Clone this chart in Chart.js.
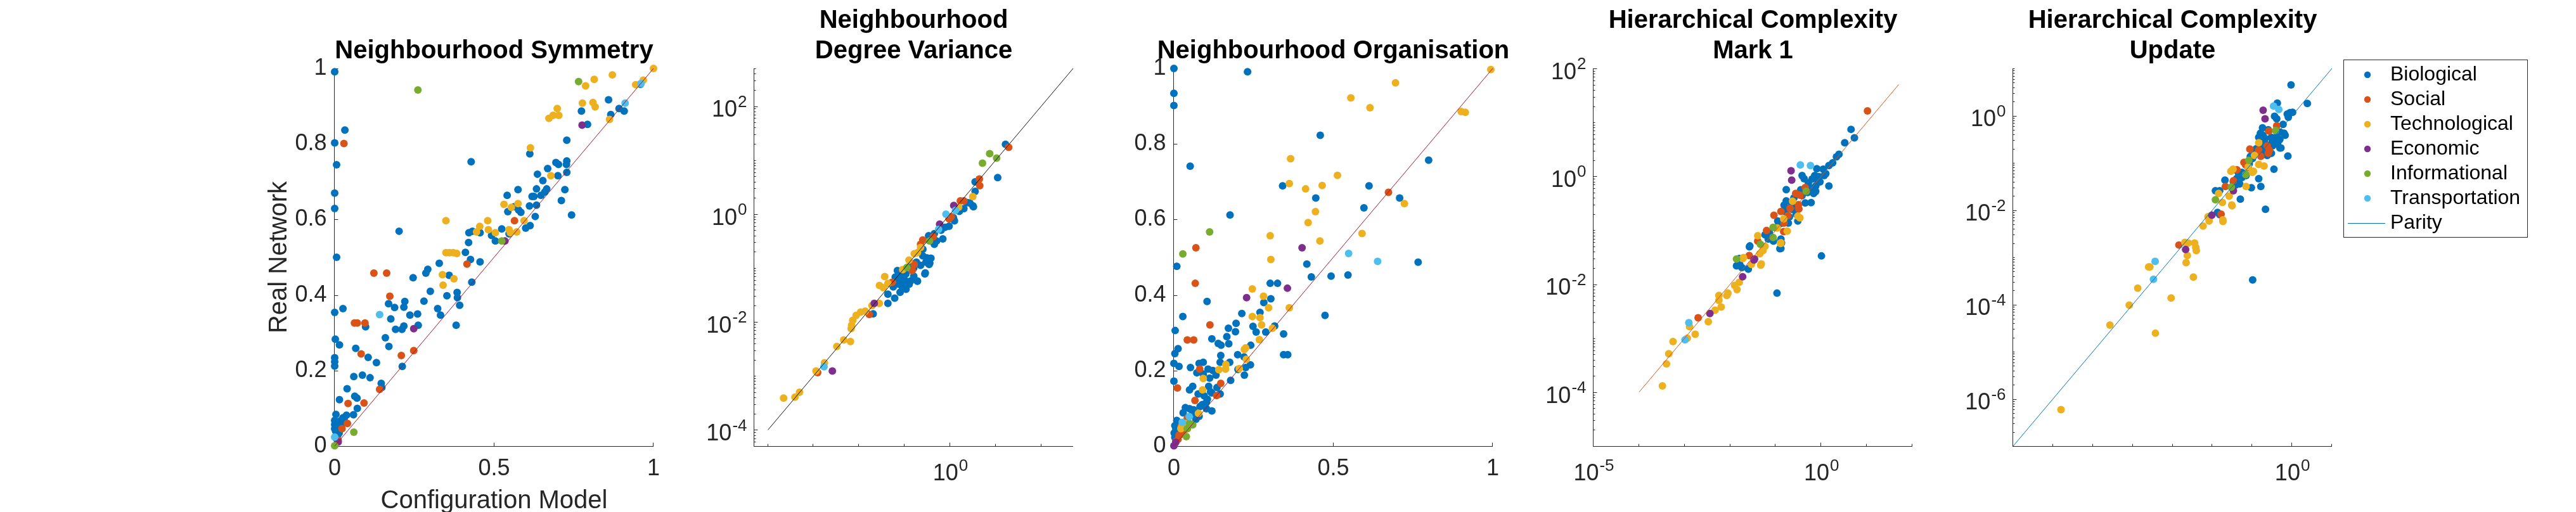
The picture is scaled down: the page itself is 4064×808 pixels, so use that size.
<!DOCTYPE html>
<html>
<head>
<meta charset="utf-8">
<script src="https://cdn.jsdelivr.net/npm/chart.js@4.4.1/dist/chart.umd.min.js"></script>
<style>
  html, body { margin: 0; padding: 0; background: #fff; }
  #wrap { position: relative; width: 4064px; height: 808px; }
  #wrap canvas { position: absolute; left: 0; top: 0; }
</style>
</head>
<body>
<div id="wrap">
  <canvas id="c0" width="4064" height="808"></canvas>
  <canvas id="c1" width="4064" height="808"></canvas>
  <canvas id="c2" width="4064" height="808"></canvas>
  <canvas id="c3" width="4064" height="808"></canvas>
  <canvas id="c4" width="4064" height="808"></canvas>
</div>
<script>
/* Real network vs configuration model, five measures */
const categories = ['Biological', 'Social', 'Technological', 'Economic', 'Informational', 'Transportation'];
const catColors = ['#0072BD', '#D95319', '#EDB120', '#7E2F8E', '#77AC30', '#4DBEEE'];

// Neighbourhood Symmetry  [configuration model, real network]
const symBio = [[0,0.991],[0,0.803],[0.032,0.837],[0.006,0.745],[0,0.67],[0,0.629],[0.006,0.5],[0,0.354],[0.026,0.364],[0.002,0.283],[0.015,0.268],[0,0.234],[0,0.223],[0,0.212],[0.015,0.123],[0.039,0.152],[0.06,0.184],[0.066,0.259],[0.087,0.188],[0.111,0.181],[0.097,0.316],[0.105,0.235],[0.131,0.221],[0.146,0.166],[0.148,0.155],[0.063,0.132],[0.07,0.127],[0.071,0.1],[0.159,0.287],[0.17,0.264],[0.169,0.377],[0.176,0.337],[0.188,0.367],[0.191,0.309],[0.202,0.569],[0.211,0.309],[0.217,0.318],[0.217,0.368],[0.22,0.383],[0.212,0.211],[0.246,0.446],[0.236,0.347],[0.26,0.35],[0.262,0.32],[0.28,0.384],[0.286,0.458],[0.292,0.468],[0.3,0.41],[0.328,0.484],[0.323,0.364],[0.332,0.347],[0.352,0.398],[0.359,0.452],[0.384,0.407],[0.385,0.393],[0.392,0.373],[0.381,0.32],[0.41,0.513],[0.421,0.565],[0.426,0.494],[0.42,0.539],[0.428,0.753],[0.43,0.434],[0.432,0.569],[0.456,0.565],[0.456,0.488],[0.492,0.558],[0.504,0.543],[0.524,0.575],[0.541,0.664],[0.543,0.621],[0.547,0.562],[0.563,0.634],[0.575,0.679],[0.577,0.625],[0.584,0.619],[0.599,0.577],[0.613,0.584],[0.611,0.636],[0.619,0.661],[0.625,0.661],[0.612,0.774],[0.629,0.608],[0.633,0.681],[0.633,0.638],[0.636,0.72],[0.653,0.703],[0.647,0.664],[0.659,0.673],[0.665,0.681],[0.668,0.735],[0.694,0.751],[0.702,0.746],[0.7,0.716],[0.711,0.65],[0.722,0.679],[0.728,0.81],[0.728,0.755],[0.727,0.746],[0.728,0.725],[0.743,0.612],[0.774,0.887],[0.793,0.852],[0.859,0.917],[0.866,0.878],[0.892,0.894],[0.908,0.887],[0.959,0.958],[0.059,0.083],[0.037,0.082],[0.03,0.074],[0.004,0.084],[0,0.068],[0,0.057],[0,0.046],[0.003,0.04],[0.01,0.052],[0.02,0.068],[0.023,0.057],[0.014,0.035],[0.01,0.029],[0.026,0.075],[0.005,0.02],[0.008,0.045],[0.016,0.06]];
const symSoc = [[0.029,0.801],[0.123,0.458],[0.163,0.458],[0.173,0.397],[0.062,0.326],[0.071,0.326],[0.095,0.326],[0.083,0.244],[0.209,0.24],[0.248,0.253],[0.042,0.113],[0.092,0.114],[0.04,0.06],[0.023,0.046],[0.141,0.15],[0.415,0.482],[0.564,0.597],[0.011,0.015]];
const symTech = [[1,1],[0.871,0.983],[0.814,0.971],[0.787,0.954],[0.944,0.957],[0.968,0.969],[0.777,0.908],[0.81,0.91],[0.817,0.898],[0.698,0.894],[0.672,0.868],[0.685,0.876],[0.703,0.876],[0.614,0.79],[0.678,0.716],[0.862,0.865],[0.349,0.597],[0.349,0.512],[0.36,0.512],[0.372,0.512],[0.383,0.51],[0.338,0.454],[0.374,0.443],[0.34,0.426],[0.48,0.597],[0.455,0.582],[0.445,0.567],[0.482,0.573],[0.504,0.565],[0.531,0.64],[0.554,0.632],[0.575,0.642],[0.547,0.573],[0.551,0.565],[0.571,0.567],[0.594,0.597]];
const symEcon = [[0.776,0.85],[0.534,0.543],[0.248,0.311],[0.011,0.011]];
const symInfo = [[0.261,0.943],[0.765,0.965],[0.524,0.543],[0.06,0.037],[0,0.001]];
const symTrans = [[0.141,0.348],[0.911,0.908],[0.961,0.96],[0,0.024]];

// Neighbourhood Degree Variance, read as log10 values [x, y]
const ndvBio = [[1.214,1.292],[1.043,0.676],[0.547,0.598],[0.547,0.421],[0.431,0.206],[0.51,0.135],[0.07,-0.068],[0.093,-0.127],[-0.024,-0.226],[-0.115,-0.245],[-0.162,-0.461],[-0.348,-0.363],[-0.473,-0.402],[-0.348,-0.559],[-0.602,-0.774],[-0.51,-0.814],[-0.463,-0.932],[-0.533,-0.892],[-0.858,-0.912],[-0.741,-0.892],[-1.159,-1.049],[-1.067,-1.127],[-0.974,-1.108],[-0.556,-1.108],[-1.206,-1.167],[-1.113,-1.245],[-0.974,-1.245],[-0.719,-1.245],[-1.368,-1.485],[-1.219,-1.558],[-1.368,-1.655],[-1.119,-1.303],[-0.97,-1.394],[-1.02,-1.182],[-0.871,-1.242],[-0.721,-1.242],[-0.547,-1.091],[-0.448,-0.909],[-0.423,-0.818],[-1.692,-1.848],[0.373,0.212],[0.498,0.152],[-0.8,-1.0],[-0.9,-1.3],[-1.05,-1.35],[-0.65,-0.95],[-0.3,-0.5],[-0.2,-0.3],[0.2,0.05],[0.3,0.1],[-0.6,-0.65],[-1.25,-1.35],[-1.1,-1.45],[-0.8,-1.15]];
const ndvSoc = [[1.284,1.238],[0.64,0.649],[0.649,0.527],[0.223,0.245],[0.301,0.245],[0.024,-0.049],[-0.024,-0.088],[-0.371,-0.421],[-0.602,-0.48],[-0.65,-0.559],[-0.789,-0.932],[-0.834,-1.049],[-1.275,-1.265],[-1.776,-1.861],[-2.91,-2.939]];
const ndvTech = [[0.496,0.324],[0.185,0.127],[-0.65,-0.618],[-0.719,-0.716],[-0.789,-0.735],[-0.904,-0.853],[-1.043,-1.029],[-1.437,-1.159],[-1.553,-1.324],[-1.367,-1.285],[-1.468,-1.364],[-1.866,-1.8],[-1.965,-1.818],[-2.065,-1.879],[-2.139,-1.97],[-2.164,-2.06],[-2.174,-2.121],[-1.557,-1.655],[-1.716,-1.697],[-2.338,-2.333],[-2.189,-2.364],[-2.488,-2.455],[-2.761,-2.758],[-2.945,-2.909],[-3.308,-3.303],[-3.408,-3.394],[-3.657,-3.412]];
const ndvEcon = [[0.079,0.159],[-0.232,-0.186],[-1.667,-1.655],[-2.587,-2.909]];
const ndvInfo = [[0.867,1.12],[0.709,0.944],[1.02,1.038],[-0.455,-0.5],[-0.95,-0.99]];
const ndvTrans = [[0.116,0.068],[-0.093,-0.002],[-0.255,-0.284],[-2.771,-2.83]];

// Neighbourhood Organisation
const orgBio = [[0,1],[0,0.934],[0,0.902],[0.231,0.991],[0.459,0.823],[0.051,0.741],[0.176,0.612],[0.341,0.689],[0.445,0.657],[0.612,0.689],[0.596,0.631],[0.708,0.657],[0.799,0.757],[0.766,0.487],[0.546,0.453],[0.493,0.45],[0.431,0.448],[0.417,0.482],[0.474,0.346],[0.009,0.476],[0.104,0.383],[0.028,0.343],[0.302,0.431],[0.325,0.431],[0.304,0.39],[0.282,0.38],[0.27,0.354],[0.316,0.318],[0.213,0.351],[0.195,0.325],[0.171,0.312],[0.248,0.317],[0.004,0.306],[0.119,0.284],[0.166,0.29],[0.193,0.303],[0.258,0.302],[0.288,0.302],[0.344,0.297],[0.013,0.258],[0.003,0.245],[0.139,0.272],[0.148,0.267],[0.172,0.271],[0.241,0.267],[0.147,0.24],[0.2,0.242],[0.22,0.236],[0.344,0.242],[0.357,0.242],[0,0.219],[0.016,0.211],[0.052,0.208],[0.079,0.219],[0.092,0.222],[0.145,0.222],[0.175,0.222],[0.107,0.204],[0.122,0.2],[0.072,0.194],[0.092,0.191],[0.112,0.18],[0.132,0.188],[0.221,0.188],[0.201,0.203],[0.225,0.208],[0.24,0.215],[0.178,0.174],[0,0.172],[0.049,0.149],[0.059,0.158],[0.109,0.158],[0.115,0.144],[0.135,0.155],[0.076,0.138],[0.095,0.133],[0.105,0.124],[0.119,0.141],[0.145,0.138],[0.089,0.11],[0.082,0.105],[0.102,0.116],[0.049,0.099],[0.036,0.102],[0.062,0.096],[0.059,0.088],[0.029,0.088],[0.102,0.099],[0.119,0.093],[0.079,0.079],[0.069,0.071],[0.009,0.068],[0.003,0.054],[0.006,0.046],[0.001,0.035],[0.013,0.032],[0.022,0.04],[0.016,0.051],[0.019,0.06],[0.003,0.023],[0.009,0.018]];
const orgSoc = [[0.673,0.672],[0.069,0.525],[0.067,0.431],[0.113,0.321],[0.042,0.281],[0.062,0.281],[0.081,0.204],[0.011,0.154],[0.147,0.166],[0.134,0.134],[0.066,0.121],[0.042,0.074],[0.036,0.063],[0.022,0.051],[0.042,0.046],[0.029,0.04],[0.016,0.029],[0.026,0.032],[0.006,0.012],[0.013,0.018]];
const orgTech = [[0.994,0.997],[0.695,0.962],[0.555,0.922],[0.615,0.896],[0.901,0.886],[0.914,0.884],[0.366,0.761],[0.513,0.717],[0.362,0.695],[0.413,0.681],[0.465,0.69],[0.444,0.621],[0.421,0.592],[0.723,0.642],[0.59,0.563],[0.302,0.557],[0.304,0.494],[0.458,0.543],[0.246,0.416],[0.281,0.397],[0.246,0.343],[0.27,0.34],[0.275,0.321],[0.297,0.366],[0.362,0.366],[0.309,0.312],[0.268,0.282],[0.225,0.26],[0.221,0.256],[0.227,0.23],[0.163,0.216],[0.162,0.204],[0.141,0.202],[0.205,0.205],[0.092,0.179],[0.09,0.149],[0.077,0.087],[0.026,0.054],[0.022,0.046],[0.036,0.06]];
const orgEcon = [[0.402,0.525],[0.356,0.418],[0.228,0.393],[0,0.001],[0.006,0.01]];
const orgInfo = [[0.112,0.567],[0.028,0.509],[0.059,0.056],[0.039,0.025],[0.049,0.06],[0.042,0.046]];
const orgTrans = [[0.548,0.51],[0.639,0.489],[0.048,0.078],[0.026,0.063]];

// Hierarchical Complexity Mark 1, log10 values
const hc1Bio = [[0.654,0.871],[0.728,0.714],[0.515,0.624],[0.389,0.408],[0.334,0.361],[-0.097,0.141],[0.042,0.133],[0.167,0.2],[0.065,0.016],[-0.051,-0.004],[-0.143,0.016],[-0.421,0.016],[-0.376,-0.043],[0.167,-0.18],[-0.028,-0.102],[-0.121,-0.18],[-0.074,-0.082],[-0.282,-0.121],[-0.213,-0.22],[-0.769,-0.247],[-0.167,-0.318],[-0.121,-0.279],[-0.421,-0.357],[-0.352,-0.494],[-0.223,-0.486],[-0.769,-0.455],[-0.816,-0.533],[-0.723,-0.592],[-0.793,-0.651],[-0.63,-0.612],[-0.538,-0.573],[-0.515,-0.827],[-0.723,-0.867],[-0.9,-0.878],[-0.955,-0.827],[-1.234,-1.082],[-1.141,-1.043],[-1.164,-1.161],[-0.886,-1.161],[-0.886,-1.337],[-1.568,-1.29],[0.004,-1.475],[-1.79,-1.631],[-1.743,-1.69],[-1.604,-1.71],[-0.972,-2.165],[-1.8,-1.524],[-1.86,-1.659],[-1.602,-1.72],[-1.577,-1.305],[-0.908,-1.341],[-0.873,-1.232],[-0.6,-0.4],[-0.45,-0.25],[-0.3,-0.3],[-0.65,-0.5],[-0.55,-0.7],[-0.2,-0.05],[0.1,0.05],[-1.0,-0.95],[-1.05,-1.2],[-0.7,-0.75],[0.25,0.25]];
const hc1Soc = [[1.015,1.212],[-0.352,-0.208],[-0.561,-0.318],[-0.469,-0.349],[-0.501,-0.526],[-0.491,-0.604],[-0.686,-0.592],[-0.886,-0.651],[-1.039,-0.722],[-0.733,-0.729],[-0.816,-0.867],[-0.825,-1.024],[-1.2,-1.004],[-1.395,-1.2],[-1.581,-1.467],[-2.703,-2.622]];
const hc1Tech = [[-0.63,-0.462],[-0.515,-0.738],[-0.469,-0.769],[-0.825,-0.788],[-0.964,-0.957],[-0.747,-1.016],[-1.395,-1.102],[-0.886,-1.231],[-1.234,-1.298],[-1.28,-1.376],[-1.349,-1.435],[-1.317,-1.624],[-1.707,-1.506],[-1.534,-1.631],[-1.8,-1.963],[-1.85,-2.098],[-1.9,-2.024],[-2.049,-2.165],[-2.073,-2.207],[-2.247,-2.207],[-2.197,-2.421],[-2.247,-2.299],[-2.331,-2.482],[-2.48,-2.695],[-2.768,-2.927],[-2.892,-2.787],[-2.941,-3.0],[-3.254,-3.061],[-3.348,-3.287],[-3.398,-3.476],[-3.487,-3.884],[-1.329,-1.646],[-1.726,-1.524],[-0.893,-1.244]];
const hc1Econ = [[-0.663,0.102],[-0.649,-0.071],[-1.465,-1.533],[-1.726,-1.86],[-2.445,-2.543],[-1.478,-1.549]];
const hc1Info = [[-0.33,-0.279],[-1.057,-0.945],[-1.057,-1.133],[-1.335,-1.259],[-1.86,-1.533]];
const hc1Trans = [[-0.459,0.212],[-0.236,0.2],[-2.907,-2.713],[-2.991,-3.03]];

// Hierarchical Complexity Update, log10 values
const hcuBio = [[-0.027,0.651],[0.382,0.257],[-0.371,0.265],[-0.44,-0.012],[-0.386,-0.066],[-0.122,0.032],[-0.052,0.063],[0.011,0.069],[-0.095,-0.035],[-0.227,-0.183],[-0.743,-0.259],[-0.795,-0.371],[-0.731,-0.415],[-0.202,-0.371],[-0.175,-0.415],[-0.679,-0.483],[-0.52,-0.461],[-0.413,-0.461],[-0.307,-0.505],[-0.838,-0.461],[-0.679,-0.595],[-0.758,-0.64],[-0.413,-0.595],[-0.493,-0.64],[-0.307,-0.684],[-0.36,-0.573],[-0.107,-0.855],[-0.281,-0.684],[-0.731,-0.684],[-0.704,-0.819],[-0.625,-0.841],[-0.52,-0.797],[-1.049,-0.864],[-0.997,-0.909],[-0.943,-0.819],[-0.456,-1.133],[-1.076,-1.02],[-1.367,-1.177],[-1.261,-1.2],[-1.34,-1.268],[-1.394,-1.335],[-1.261,-1.312],[-1.155,-1.268],[-1.34,-1.402],[-1.473,-1.402],[-1.42,-1.469],[-1.315,-1.446],[-0.838,-1.335],[-0.785,-1.5],[-1.023,-1.527],[-1.685,-1.366],[-1.924,-1.59],[-1.817,-1.59],[-1.299,-1.769],[-0.668,-1.984],[-1.871,-2.051],[-1.817,-2.096],[-0.99,-3.481],[-0.6,-0.3],[-0.5,-0.55],[-0.9,-0.7],[-1.1,-1.1],[-0.3,-0.35]];
const hcuSoc = [[-0.386,-0.214],[-0.583,-0.327],[-0.625,-0.64],[-0.572,-0.73],[-0.599,-0.797],[-1.06,-0.707],[-0.838,-0.73],[-0.89,-0.819],[-0.785,-0.864],[-1.208,-0.989],[-1.165,-1.043],[-1.383,-1.146],[-1.473,-1.379],[-1.674,-1.5],[-1.781,-2.087],[-2.841,-2.74]];
const hcuTech = [[-0.838,-0.573],[-0.943,-0.841],[-0.838,-1.034],[-0.704,-1.066],[-1.102,-1.088],[-0.97,-1.177],[-0.997,-1.2],[-1.483,-1.133],[-1.537,-1.177],[-1.155,-1.5],[-1.844,-1.648],[-1.579,-1.706],[-1.749,-1.84],[-1.515,-1.894],[-2.11,-2.141],[-2.083,-2.23],[-1.738,-2.208],[-2.052,-2.131],[-2.234,-2.339],[-1.736,-2.242],[-1.506,-1.91],[-2.69,-2.685],[-2.611,-2.699],[-2.447,-2.699],[-2.417,-2.789],[-2.404,-2.858],[-2.629,-2.962],[-2.66,-3.114],[-2.477,-3.419],[-3.57,-3.204],[-3.6,-3.204],[-3.874,-3.654],[-3.036,-3.862],[-4.086,-4.014],[-4.572,-4.436],[-3.43,-4.609],[-5.798,-6.228]];
const hcuEcon = [[-0.727,0.113],[-0.679,-0.066],[-1.473,-1.59],[-2.014,-2.109],[-2.672,-2.837]];
const hcuInfo = [[-0.413,-0.317],[-1.086,-0.945],[-1.165,-1.249],[-1.526,-1.513],[-1.924,-1.782]];
const hcuTrans = [[-0.466,0.203],[-0.334,0.13],[-3.437,-3.087],[-3.479,-3.467]];

// tick labels
const linTicksX = [0, 0.5, 1];
const linTicksY = [0, 0.2, 0.4, 0.6, 0.8, 1];
const linLabelsX = ['0', '0.5', '1'];
const linLabelsY = ['0', '0.2', '0.4', '0.6', '0.8', '1'];

const axisColor = '#262626';
const FONT = '"Liberation Sans", Arial, Helvetica, sans-serif';

const panels = [
  { title: ['Neighbourhood Symmetry'], log: false, range: [0, 1], sets: [symBio, symSoc, symTech, symEcon, symInfo, symTrans], parity: [0, 1], parityColor: '#A2142F' },
  { title: ['Neighbourhood', 'Degree Variance'], log: true, range: [5e-5, 500], sets: [ndvBio, ndvSoc, ndvTech, ndvEcon, ndvInfo, ndvTrans], parity: [1e-4, 500], parityColor: '#111111', yPow: [-4, -2, 0, 2], xPow: [0] },
  { title: ['Neighbourhood Organisation'], log: false, range: [0, 1], sets: [orgBio, orgSoc, orgTech, orgEcon, orgInfo, orgTrans], parity: [0, 1], parityColor: '#A2142F' },
  { title: ['Hierarchical Complexity', 'Mark 1'], log: true, range: [1e-5, 100], sets: [hc1Bio, hc1Soc, hc1Tech, hc1Econ, hc1Info, hc1Trans], parity: [1e-4, 50], parityColor: '#D95319', yPow: [-4, -2, 0, 2], xPow: [-5, 0] },
  { title: ['Hierarchical Complexity', 'Update'], log: true, range: [1e-7, 10], sets: [hcuBio, hcuSoc, hcuTech, hcuEcon, hcuInfo, hcuTrans], parity: [1e-7, 10], parityColor: '#0072BD', yPow: [-6, -4, -2, 0], xPow: [0] }
];

function drawPow(ctx, e, x, y, mode) {
  const sup = String(e);
  ctx.font = '36px ' + FONT;
  const bw = ctx.measureText('10').width;
  ctx.font = '26px ' + FONT;
  const sw = ctx.measureText(sup).width;
  let left, baseY;
  if (mode === 'y') { left = x - bw - sw; baseY = y + 7; }
  else { left = x - (bw + sw) / 2; baseY = y; }
  ctx.textAlign = 'left';
  ctx.textBaseline = 'middle';
  ctx.font = '36px ' + FONT;
  ctx.fillText('10', left, baseY);
  ctx.font = '26px ' + FONT;
  ctx.fillText(sup, left + bw + 1, baseY - 13);
}

const matlabAxes = {
  id: 'matlabAxes',
  beforeDatasetsDraw(chart, args, opts) {
    const p = panels[opts.idx];
    const { ctx, chartArea: a } = chart;
    const sx = chart.scales.x, sy = chart.scales.y;
    const L = Math.round(a.left) - 0.5, B = Math.round(a.bottom) + 0.5;
    ctx.save();
    ctx.strokeStyle = axisColor;
    ctx.fillStyle = axisColor;
    ctx.lineWidth = 1;
    ctx.beginPath();
    ctx.moveTo(L, a.top); ctx.lineTo(L, B); ctx.lineTo(a.right, B);
    ctx.stroke();

    const tick = (px, len, vert) => {
      ctx.beginPath();
      if (vert) { ctx.moveTo(px, B); ctx.lineTo(px, B - len); }
      else { ctx.moveTo(L, px); ctx.lineTo(L + len, px); }
      ctx.stroke();
    };

    if (!p.log) {
      ctx.font = '36px ' + FONT;
      ctx.textBaseline = 'middle';
      linTicksX.forEach((v, i) => {
        const px = Math.round(sx.getPixelForValue(v)) - 0.5;
        tick(px, 6, true);
        ctx.textAlign = 'center';
        ctx.fillText(linLabelsX[i], sx.getPixelForValue(v), B + 36);
      });
      linTicksY.forEach((v, i) => {
        const py = Math.round(sy.getPixelForValue(v)) + 0.5;
        tick(py, 6, false);
        ctx.textAlign = 'right';
        ctx.fillText(linLabelsY[i], L - 12, sy.getPixelForValue(v));
      });
    } else {
      const lo = Math.floor(Math.log10(p.range[0])), hi = Math.ceil(Math.log10(p.range[1]));
      for (let k = lo; k <= hi; k++) {
        for (let n = 1; n <= 9; n++) {
          const v = n * Math.pow(10, k);
          if (v < p.range[0] * 0.999 || v > p.range[1] * 1.001) continue;
          const py = Math.round(sy.getPixelForValue(v)) + 0.5;
          const major = n === 1 && p.yPow.includes(k);
          tick(py, major ? 6 : 3, false);
        }
        const xv = Math.pow(10, k);
        if (xv >= p.range[0] * 0.999 && xv <= p.range[1] * 1.001) {
          const px = Math.round(sx.getPixelForValue(xv)) - 0.5;
          tick(px, p.xPow.includes(k) ? 6 : 4, true);
        }
      }
      p.yPow.forEach(e => drawPow(ctx, e, L - 12, sy.getPixelForValue(Math.pow(10, e)), 'y'));
      p.xPow.forEach(e => drawPow(ctx, e, sx.getPixelForValue(Math.pow(10, e)), B + 44, 'x'));
    }

    // title
    const cx = (a.left + a.right) / 2;
    ctx.fillStyle = '#000';
    ctx.font = 'bold 40px ' + FONT;
    ctx.textAlign = 'center';
    ctx.textBaseline = 'alphabetic';
    if (p.title.length === 1) ctx.fillText(p.title[0], cx, 92);
    else { ctx.fillText(p.title[0], cx, 44); ctx.fillText(p.title[1], cx, 92); }

    if (opts.idx === 0) {
      ctx.fillStyle = axisColor;
      ctx.font = '40px ' + FONT;
      ctx.fillText('Configuration Model', cx, 802);
      ctx.save();
      ctx.translate(452, (a.top + a.bottom) / 2);
      ctx.rotate(-Math.PI / 2);
      ctx.fillText('Real Network', 0, 0);
      ctx.restore();
    }
    ctx.restore();
  },
  afterDraw(chart, args, opts) {
    if (opts.idx !== 4) return;
    const ctx = chart.ctx;
    ctx.save();
    ctx.fillStyle = '#fff';
    ctx.fillRect(3697, 94, 290, 280);
    ctx.strokeStyle = axisColor;
    ctx.lineWidth = 1;
    ctx.strokeRect(3697.5, 94.5, 290, 280);
    ctx.font = '32px ' + FONT;
    ctx.textAlign = 'left';
    ctx.textBaseline = 'middle';
    categories.forEach((c, i) => {
      const yy = 118 + i * 39;
      ctx.fillStyle = catColors[i];
      ctx.beginPath(); ctx.arc(3735, yy, 5.2, 0, Math.PI * 2); ctx.fill();
      ctx.fillStyle = '#000';
      ctx.fillText(c, 3771, yy);
    });
    const py = 118 + 6 * 39 + 0.5;
    ctx.strokeStyle = panels[4].parityColor;
    ctx.beginPath(); ctx.moveTo(3704, py); ctx.lineTo(3763, py); ctx.stroke();
    ctx.fillStyle = '#000';
    ctx.fillText('Parity', 3771, 118 + 6 * 39);
    ctx.restore();
  }
};

panels.forEach((p, i) => {
  const left = 528 + 662 * i;
  const toPts = arr => arr.map(([a, b]) => p.log ? { x: Math.pow(10, a), y: Math.pow(10, b) } : { x: a, y: b });
  const datasets = p.sets.map((s, j) => ({
    label: categories[j],
    data: toPts(s),
    backgroundColor: catColors[j],
    borderWidth: 0,
    pointRadius: 6,
    pointBorderWidth: 0,
    clip: false,
    order: 6 - j
  }));
  datasets.push({
    label: 'Parity',
    data: [{ x: p.parity[0], y: p.parity[0] }, { x: p.parity[1], y: p.parity[1] }],
    showLine: true,
    borderColor: p.parityColor,
    borderWidth: 1,
    pointRadius: 0,
    clip: false,
    order: 0
  });
  const scaleType = p.log ? 'logarithmic' : 'linear';
  new Chart(document.getElementById('c' + i), {
    type: 'scatter',
    data: { datasets },
    options: {
      responsive: false,
      animation: false,
      devicePixelRatio: 1,
      layout: { padding: { left: left, right: 4064 - left - 503, top: 108, bottom: 808 - 704 } },
      scales: {
        x: { type: scaleType, min: p.range[0], max: p.range[1], display: false },
        y: { type: scaleType, min: p.range[0], max: p.range[1], display: false }
      },
      plugins: { legend: { display: false }, tooltip: { enabled: false }, matlabAxes: { idx: i } }
    },
    plugins: [matlabAxes]
  });
});
</script>
</body>
</html>
